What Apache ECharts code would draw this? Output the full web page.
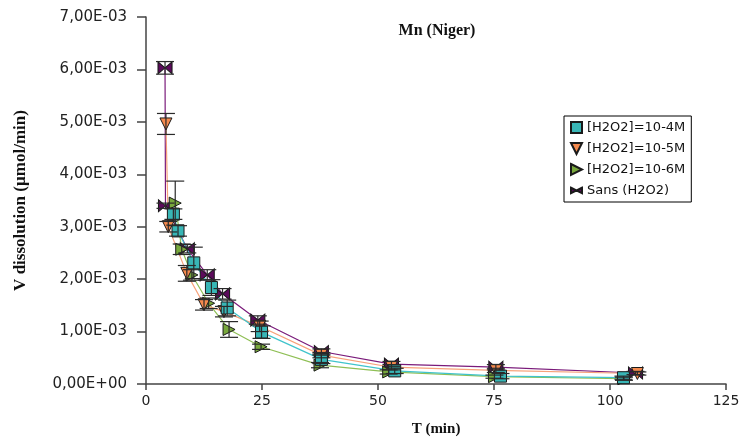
<!DOCTYPE html>
<html>
<head>
<meta charset="utf-8">
<script src="https://cdn.jsdelivr.net/npm/echarts@6/dist/echarts.min.js"></script>
<style>html,body{margin:0;padding:0;background:#fff}#c{width:742px;height:438px}</style>
</head>
<body>
<div id="c"></div>
<script>
// ---- Data (T in min, V in µmol/min, error = ± half-range) ----
const tTeal = [5.9, 6.9, 10.3, 14.1, 17.5, 24.9, 37.8, 53.6, 76.4, 102.9];
const vTeal = [0.00324, 0.00292, 0.00231, 0.00184, 0.00145, 0.00099, 0.00047, 0.00025, 0.00015, 0.00012];
const eTeal = [0.0001, 0.0001, 0.0003, 0.00015, 0.00015, 0.00012, 0.00008, 0.00005, 0.00005, 0.00003];

const tOrange = [4.3, 4.8, 8.8, 12.5, 16.8, 24.5, 37.8, 52.9, 75.4, 105.9];
const vOrange = [0.00496, 0.0030, 0.00211, 0.00151, 0.00138, 0.0011, 0.00055, 0.00032, 0.00026, 0.00020];
const eOrange = [0.0002, 0.0001, 0.00015, 0.0001, 0.0001, 0.0001, 0.00005, 0.00005, 0.00004, 0.00003];

const tGreen = [6.3, 7.7, 9.9, 13.5, 17.9, 24.8, 37.5, 52.3, 75.1, 103.0];
const vGreen = [0.00345, 0.00257, 0.00208, 0.00154, 0.00104, 0.00071, 0.00036, 0.00023, 0.00014, 0.00010];
const eGreen = [0.00042, 0.0001, 0.0001, 0.0001, 0.00015, 0.00005, 0.00005, 0.00004, 0.00003, 0.00003];

const tSans = [4.1, 4.2, 8.9, 13.2, 16.5, 24.1, 37.8, 52.9, 75.4, 105.5];
const vSans = [0.00603, 0.0034, 0.00258, 0.00208, 0.00172, 0.00122, 0.00062, 0.00038, 0.00032, 0.00021];
const eSans = [0.00012, 0.00005, 0.00008, 0.0001, 0.0001, 0.00008, 0.00005, 0.00005, 0.00005, 0.00003];

const seriesNames = ['[H2O2]=10-4M', '[H2O2]=10-5M', '[H2O2]=10-6M', 'Sans (H2O2)'];
const xTicks = [0, 25, 50, 75, 100, 125];
const yTicks = [0, 0.001, 0.002, 0.003, 0.004, 0.005, 0.006, 0.007];

// ---- Styles ----
const SYM_DOWN = 'path://M0,0 L10,0 L5,10 Z';
const SYM_RIGHT = 'path://M0,0 L10,5 L0,10 Z';
const SYM_BOW = 'path://M0,0 L10,5 L0,10 Z M20,0 L10,5 L20,10 Z';

function pairs(t, v) { return t.map((x, i) => [x, v[i]]); }
function errData(t, v, e) { return t.map((x, i) => [x, v[i], e[i]]); }

function fmtSci(v) {
  const s = Number(v).toExponential(2);
  const parts = s.split('e');
  const ex = parseInt(parts[1], 10);
  const sign = ex < 0 ? '-' : '+';
  const n = Math.abs(ex);
  return parts[0].replace('.', ',') + 'E' + sign + (n < 10 ? '0' : '') + n;
}

function errSeries(name, t, v, e) {
  return {
    name: name + ' err',
    type: 'custom',
    z: 4,
    silent: true,
    renderItem: function (params, api) {
      const x = api.value(0), y = api.value(1), d = api.value(2);
      const top = api.coord([x, y + d]);
      const bot = api.coord([x, y - d]);
      const hw = 9;
      const st = { stroke: '#2a2a2a', lineWidth: 1.2 };
      return {
        type: 'group',
        children: [
          { type: 'line', shape: { x1: top[0], y1: top[1], x2: bot[0], y2: bot[1] }, style: st },
          { type: 'line', shape: { x1: top[0] - hw, y1: top[1], x2: top[0] + hw, y2: top[1] }, style: st },
          { type: 'line', shape: { x1: bot[0] - hw, y1: bot[1], x2: bot[0] + hw, y2: bot[1] }, style: st }
        ]
      };
    },
    data: errData(t, v, e)
  };
}

function lineSeries(name, t, v, symbol, size, fill, lineColor, z) {
  return {
    name: name,
    type: 'line',
    z: z,
    data: pairs(t, v),
    symbol: symbol,
    symbolSize: size,
    showAllSymbol: true,
    lineStyle: { color: lineColor, width: 1.2 },
    itemStyle: { color: fill, borderColor: '#1a1a1a', borderWidth: 1 },
    emphasis: { disabled: true }
  };
}

const serif = '"Liberation Serif", "Times New Roman", serif';
const sans = '"DejaVu Sans", sans-serif';

const chart = echarts.init(document.getElementById('c'), null, { renderer: 'canvas' });
chart.setOption({
  animation: false,
  backgroundColor: '#ffffff',
  title: {
    text: 'Mn (Niger)',
    left: 432, top: 18, textAlign: 'center',
    textStyle: { fontFamily: serif, fontWeight: 'bold', fontSize: 16, color: '#111' }
  },
  grid: { left: 146, right: 16, top: 17, bottom: 54, containLabel: false, outerBoundsMode: 'none' },
  legend: {
    orient: 'vertical',
    left: 564, top: 116,
    padding: [5, 6, 5, 6],
    itemWidth: 11, itemHeight: 11, itemGap: 8,
    borderColor: '#000', borderWidth: 1,
    backgroundColor: '#fff',
    textStyle: { fontFamily: sans, fontSize: 13, color: '#111', lineHeight: 13 },
    data: [
      { name: seriesNames[0], icon: 'rect' },
      { name: seriesNames[1], icon: SYM_DOWN },
      { name: seriesNames[2], icon: SYM_RIGHT },
      { name: seriesNames[3], icon: SYM_BOW }
    ]
  },
  xAxis: {
    type: 'value',
    min: xTicks[0], max: xTicks[xTicks.length - 1], interval: 25,
    name: 'T (min)', nameLocation: 'middle', nameGap: 38,
    nameTextStyle: { fontFamily: serif, fontWeight: 'bold', fontSize: 15, color: '#111' },
    axisLine: { lineStyle: { color: '#444', width: 1.5 } },
    axisTick: { show: true, length: 6, lineStyle: { color: '#444', width: 1.5 } },
    axisLabel: { fontFamily: sans, fontSize: 14, color: '#222', margin: 10 },
    splitLine: { show: false }
  },
  yAxis: {
    type: 'value',
    min: yTicks[0], max: yTicks[yTicks.length - 1], interval: 0.001,
    name: 'V dissolution (µmol/min)', nameLocation: 'middle', nameGap: 117,
    nameTextStyle: { fontFamily: serif, fontWeight: 'bold', fontSize: 17, color: '#111' },
    axisLine: { show: true, lineStyle: { color: '#444', width: 1.5 } },
    axisTick: { show: true, length: 9, lineStyle: { color: '#444', width: 1.5 } },
    axisLabel: { fontFamily: sans, fontSize: 15, color: '#222', margin: 19, formatter: fmtSci },
    splitLine: { show: false }
  },
  series: [
    lineSeries(seriesNames[3], tSans, vSans, SYM_BOW, [14, 12], '#5c0a5c', '#7a1a7a', 2),
    lineSeries(seriesNames[2], tGreen, vGreen, SYM_RIGHT, 12, '#78a83c', '#8fbf55', 2),
    lineSeries(seriesNames[1], tOrange, vOrange, SYM_DOWN, 12, '#f58a4e', '#f7a27a', 2),
    lineSeries(seriesNames[0], tTeal, vTeal, 'rect', 12, '#38b6b6', '#40c4cc', 2),
    errSeries(seriesNames[3], tSans, vSans, eSans),
    errSeries(seriesNames[2], tGreen, vGreen, eGreen),
    errSeries(seriesNames[1], tOrange, vOrange, eOrange),
    errSeries(seriesNames[0], tTeal, vTeal, eTeal)
  ]
});
</script>
</body>
</html>
